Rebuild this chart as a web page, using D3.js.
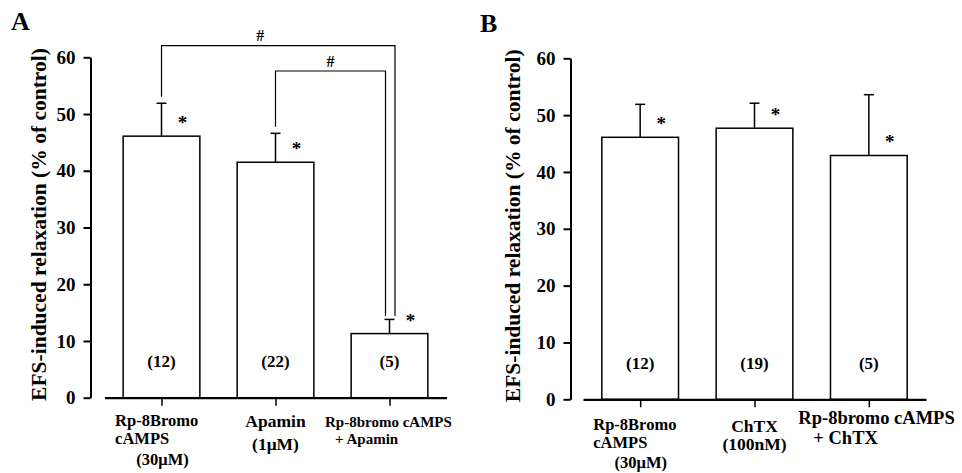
<!DOCTYPE html>
<html>
<head>
<meta charset="utf-8">
<script src="https://cdn.jsdelivr.net/npm/d3@7"></script>
<style>
  body { margin: 0; background: #fff; }
  svg text { font-family: "Liberation Serif", "Times New Roman", serif; font-weight: bold; fill: #000; }
</style>
</head>
<body>
<div id="figure_div"></div>
<script>
// ---- data ----
var labelsA = [["Rp-8Bromo", "cAMPS", "(30\u03bcM)"], ["Apamin", "(1\u03bcM)"], ["Rp-8bromo cAMPS", "+ Apamin"]];
var meansA = [46.1, 41.5, 11.3];
var semA = [5.8, 5.1, 2.5];
var nA = [12, 22, 5];
var starsA = [true, true, true];
var bracketsA = [[0, 2], [1, 2]];

var labelsB = [["Rp-8Bromo", "cAMPS", "(30\u03bcM)"], ["ChTX", "(100nM)"], ["Rp-8bromo cAMPS", "+ ChTX"]];
var meansB = [46.1, 47.7, 42.9];
var semB = [5.8, 4.4, 10.7];
var nB = [12, 19, 5];
var starsB = [true, true, true];
var bracketsB = [];

var yTicks = [0, 10, 20, 30, 40, 50, 60];
var yTitle = "EFS-induced relaxation (% of control)";

// ---- layout ----
var width = 962, height = 473;
var bar_width = 76.7;

var svg = d3.select('#figure_div')
    .append('svg')
    .attr('width', width)
    .attr('height', height);

svg.append('rect').attr('width', width).attr('height', height).attr('fill', '#fff');

// line placement of the category labels: dx from bar centre, dy below the baseline
var label_layout_A = [
    [{dx: -46.4, dy: 28.3, a: 'start'}, {dx: -46.4, dy: 45.8, a: 'start'}, {dx: 1, dy: 67, a: 'middle'}],
    [{dx: 0, dy: 29, a: 'middle'}, {dx: 0, dy: 52.3, a: 'middle'}],
    [{dx: -64.5, dy: 29, a: 'start'}, {dx: -54.5, dy: 46.6, a: 'start'}]
];
var label_layout_B = [
    [{dx: -46.9, dy: 30.7, a: 'start'}, {dx: -46.9, dy: 48.7, a: 'start'}, {dx: 0.6, dy: 68.7, a: 'middle'}],
    [{dx: 0, dy: 32.4, a: 'middle'}, {dx: 0, dy: 50.7, a: 'middle'}],
    [{dx: -70.5, dy: 24.7, a: 'start'}, {dx: -55.5, dy: 44.2, a: 'start'}]
];

var panels = [
    { name: 'A', labels: labelsA, means: meansA, sem: semA, n: nA, stars: starsA, brackets: bracketsA,
      axis_x: 90.5, y_range: [397.7, 57.3], x_range: [104.5, 446.5], layout: label_layout_A,
      label_fonts: [16.5, 17.5, 15], title_x: 45.5, letter: {x: 11, y: 29.5} },
    { name: 'B', labels: labelsB, means: meansB, sem: semB, n: nB, stars: starsB, brackets: bracketsB,
      axis_x: 570.5, y_range: [399.3, 58.3], x_range: [583, 926], layout: label_layout_B,
      label_fonts: [16.5, 17.5, 18.5], title_x: 520, letter: {x: 480, y: 31.5} }
];

function draw_panel(p) {
    var g = svg.append('g').attr('id', 'panel_' + p.name);

    var y = d3.scaleLinear().domain([0, 60]).range(p.y_range);
    var x = d3.scalePoint().domain(d3.range(p.means.length)).range(p.x_range).padding(0.5);

    // bars
    g.selectAll('rect.bar')
        .data(p.means)
        .enter()
        .append('rect')
        .attr('class', 'bar')
        .attr('x', function(d, i) { return x(i) - bar_width / 2; })
        .attr('y', function(d) { return y(d); })
        .attr('width', bar_width)
        .attr('height', function(d) { return y(0) - y(d); })
        .attr('fill', '#fff')
        .attr('stroke', '#000')
        .attr('stroke-width', 1.5);

    // error bars (upper only)
    var err = g.selectAll('g.err')
        .data(p.means)
        .enter()
        .append('g')
        .attr('class', 'err')
        .attr('stroke', '#000')
        .attr('stroke-width', 1.5);
    err.append('line')
        .attr('x1', function(d, i) { return x(i); })
        .attr('x2', function(d, i) { return x(i); })
        .attr('y1', function(d) { return y(d); })
        .attr('y2', function(d, i) { return y(d + p.sem[i]); });
    err.append('line')
        .attr('x1', function(d, i) { return x(i) - 5; })
        .attr('x2', function(d, i) { return x(i) + 5; })
        .attr('y1', function(d, i) { return y(d + p.sem[i]); })
        .attr('y2', function(d, i) { return y(d + p.sem[i]); });

    // significance stars
    g.selectAll('text.star')
        .data(p.means)
        .enter()
        .filter(function(d, i) { return p.stars[i]; })
        .append('text')
        .attr('class', 'star')
        .attr('x', function(d, i) { return x(i) + 21; })
        .attr('y', function(d) { return y(d) - 7; })
        .attr('text-anchor', 'middle')
        .style('font-size', '19px')
        .text('*');

    // n inside the bars
    g.selectAll('text.n')
        .data(p.n)
        .enter()
        .append('text')
        .attr('class', 'n')
        .attr('x', function(d, i) { return x(i); })
        .attr('y', y(0) - 30.5)
        .attr('text-anchor', 'middle')
        .style('font-size', '17px')
        .text(function(d) { return '(' + d + ')'; });

    // comparison brackets (#)
    var levels = [y(60) - 11.6, y(60) + 13.7];
    var right_off = [5.5, -4];
    var hash_dx = [-18, 0];
    p.brackets.forEach(function(b, k) {
        var x1 = x(b[0]), x2 = x(b[1]) + right_off[k];
        var top1 = y(p.means[b[0]] + p.sem[b[0]]);
        var top2 = y(p.means[b[1]] + p.sem[b[1]]);
        g.append('path')
            .attr('d', 'M' + x1 + ',' + (top1 - 6.6) + 'V' + levels[k] + 'H' + x2 + 'V' + (top2 - 3.5))
            .attr('fill', 'none')
            .attr('stroke', '#000')
            .attr('stroke-width', 1.2);
        g.append('text')
            .attr('x', (x1 + x2) / 2 + hash_dx[k])
            .attr('y', levels[k] - 4.5)
            .attr('text-anchor', 'middle')
            .style('font-size', '16px')
            .text('#');
    });

    // y axis
    var y_axis = g.append('g')
        .attr('transform', 'translate(' + p.axis_x + ',0)')
        .call(d3.axisLeft(y).tickValues(yTicks).tickSize(7).tickSizeOuter(0).tickPadding(8));
    y_axis.select('.domain').attr('stroke', '#000').attr('stroke-width', 2);
    y_axis.selectAll('.tick line').attr('stroke', '#000').attr('stroke-width', 2);
    y_axis.selectAll('.tick text')
        .style('font-size', '19px')
        .style('font-family', '"Liberation Serif", "Times New Roman", serif')
        .style('font-weight', 'bold');

    // x axis
    var x_axis = g.append('g')
        .attr('transform', 'translate(0,' + y(0) + ')')
        .call(d3.axisBottom(x).tickSize(8).tickSizeOuter(0).tickFormat(''));
    x_axis.select('.domain').attr('stroke', '#000').attr('stroke-width', 2.3);
    x_axis.selectAll('.tick line').attr('stroke', '#000').attr('stroke-width', 1.5);

    // category labels, one text per category with a tspan per line
    p.labels.forEach(function(lines, i) {
        var t = g.append('text')
            .attr('class', 'cat')
            .style('font-size', p.label_fonts[i] + 'px');
        lines.forEach(function(line, j) {
            var lay = p.layout[i][j];
            t.append('tspan')
                .attr('x', x(i) + lay.dx)
                .attr('y', y(0) + lay.dy)
                .attr('text-anchor', lay.a)
                .text(line);
        });
    });

    // y title
    g.append('text')
        .attr('transform', 'translate(' + p.title_x + ',' + ((y(0) + y(60)) / 2 - 3) + ') rotate(-90)')
        .attr('text-anchor', 'middle')
        .style('font-size', '21.5px')
        .text(yTitle);

    // panel letter
    g.append('text')
        .attr('x', p.letter.x)
        .attr('y', p.letter.y)
        .style('font-size', '26px')
        .text(p.name);
}

panels.forEach(draw_panel);
</script>
</body>
</html>
